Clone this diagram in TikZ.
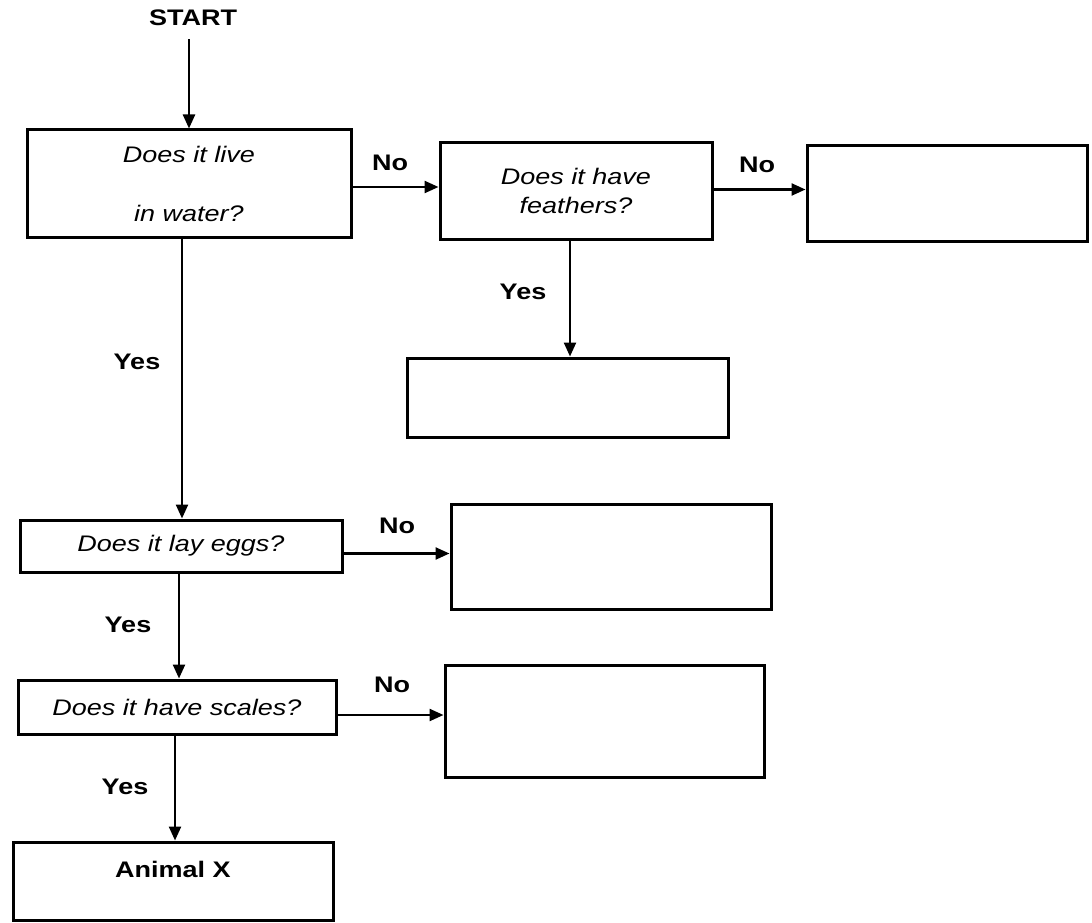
\documentclass[tikz,border=0pt]{standalone}
\usepackage{fontspec}
\setmainfont{Liberation Sans}[FakeStretch=1.2]
\usetikzlibrary{arrows.meta}
\begin{document}
\begin{tikzpicture}[x=1pt,y=-1pt,
  box/.style={draw, line width=3pt, inner sep=0pt, align=center,
    font=\fontsize{22.5}{26}\selectfont\itshape},
  lbl/.style={inner sep=1pt, font=\fontsize{22.5}{26}\selectfont\bfseries},
  arr/.style={line width=2.4pt, -{Triangle[length=14pt,width=12pt]}}]
\useasboundingbox (0,0) rectangle (1092,923);

% title
\node[lbl] (start) at (193,18) {START};

% boxes
\node[box, minimum width=324pt, minimum height=107pt] (b1) at (189,183.5) {Does it live\\[33pt]in water?};
\node[box, minimum width=272pt, minimum height=96pt] (b2) at (576,191) {Does it have\\[3pt]feathers?};
\node[box, minimum width=280pt, minimum height=95pt] (b3) at (947,193.5) {};
\node[box, minimum width=321pt, minimum height=79pt] (b4) at (567.5,397.5) {};
\node[box, minimum width=322pt, minimum height=52pt] (b5) at (181,546) {Does it lay eggs?};
\node[box, minimum width=320pt, minimum height=105pt] (b6) at (611,556.5) {};
\node[box, minimum width=318pt, minimum height=54pt] (b7) at (177,707) {Does it have scales?};
\node[box, minimum width=319pt, minimum height=112pt] (b8) at (604.5,721) {};
\node[box, minimum width=320pt, minimum height=78pt] (b9) at (173,881) {};
\node[lbl] (animal) at (173,869) {Animal X};

% arrow end points
\coordinate (p2) at ([yshift=4pt]b2.west);
\coordinate (p3) at ([yshift=4pt]b3.west);
\coordinate (p4) at ([xshift=2.5pt]b4.north);
\coordinate (p5) at ([xshift=1pt]b5.north);
\coordinate (p6) at ([yshift=3pt]b6.west);
\coordinate (p7) at ([xshift=2pt]b7.north);
\coordinate (p8) at ([yshift=6pt]b8.west);
\coordinate (p9) at ([xshift=2pt]b9.north);

% connectors
\draw[arr, shorten <=12pt] (start.south -| b1.north) -- (b1.north);
\draw[arr] (b1.east |- p2) -- (p2);
\draw[arr] (b2.east |- p3) -- (p3);
\draw[arr] (b2.south -| p4) -- (p4);
\draw[arr] (b1.south -| p5) -- (p5);
\draw[arr] (b5.east |- p6) -- (p6);
\draw[arr] (b5.south -| p7) -- (p7);
\draw[arr] (b7.east |- p8) -- (p8);
\draw[arr] (b7.south -| p9) -- (p9);

% labels
\node[lbl] (no1) at (390,163) {No};
\node[lbl] (no2) at (757,165) {No};
\node[lbl] (yes1) at (523,292) {Yes};
\node[lbl] (yes2) at (137,362) {Yes};
\node[lbl] (no3) at (397,526) {No};
\node[lbl] (yes3) at (128,625) {Yes};
\node[lbl] (no4) at (392,685) {No};
\node[lbl] (yes4) at (125,787) {Yes};
\end{tikzpicture}
\end{document}
